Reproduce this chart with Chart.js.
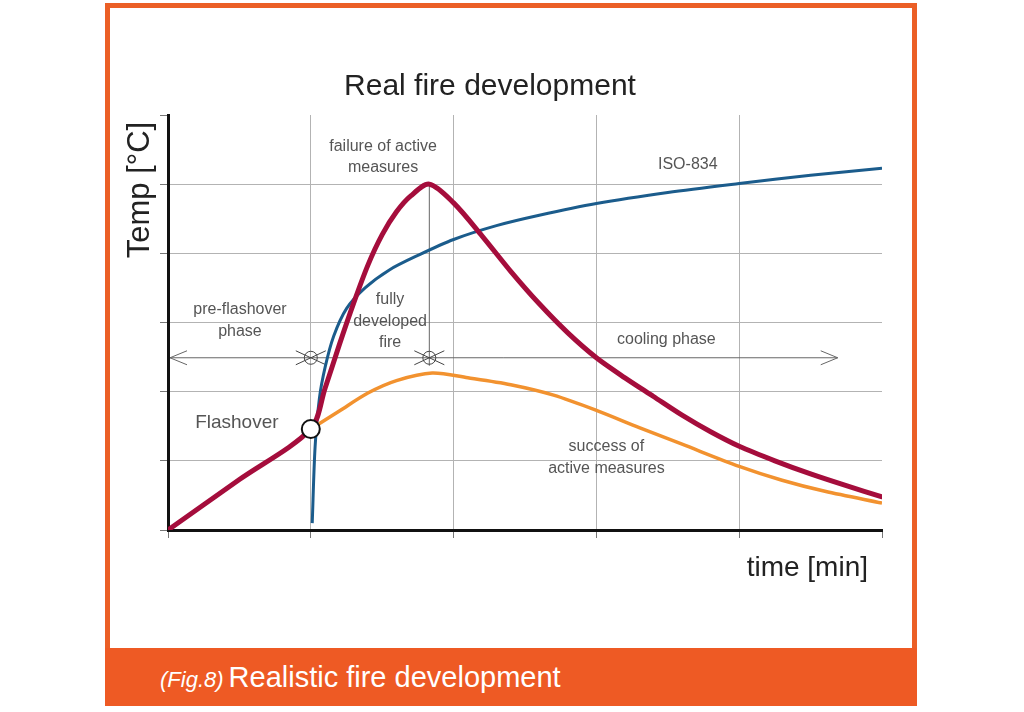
<!DOCTYPE html>
<html>
<head>
<meta charset="utf-8">
<title>Real fire development</title>
<script src="https://cdn.jsdelivr.net/npm/chart.js@4.4.1/dist/chart.umd.min.js"></script>
<style>
  html, body { margin: 0; padding: 0; background: #fff; }
  body { width: 1024px; height: 712px; position: relative; overflow: hidden; font-family: 'Liberation Sans', Arial, sans-serif; }
  .frame { position: absolute; left: 105px; top: 3px; width: 802px; height: 693px; border: 5px solid #EB5F26; }
  .band { position: absolute; left: 105px; top: 648px; width: 812px; height: 58px; background: #EE5A24; }
  .caption { position: absolute; left: 160px; top: 661px; color: #fff; font-size: 29px; line-height: 32px; white-space: nowrap; }
  .caption i { font-size: 22px; margin-right: 5px; }
  #chart { position: absolute; left: 0; top: 0; }
</style>
</head>
<body>
<div class="frame"></div>
<div class="band"></div>
<div class="caption"><i>(Fig.8)</i>Realistic fire development</div>
<canvas id="chart" width="1024" height="712"></canvas>
<script>
// Real fire: growth, flashover, fully developed fire, cooling (time / temp in grid units)
const realX = [0, 0.5, 1.0, 1.1, 1.2, 1.3, 1.4, 1.5, 1.6, 1.7, 1.83, 2.0, 2.2, 2.4, 2.6, 2.8, 3.0, 3.2, 3.4, 3.6, 3.8, 4.0, 4.25, 4.5, 4.75, 5.0];
const realY = [0, 0.73, 1.46, 2.05, 2.68, 3.28, 3.83, 4.27, 4.6, 4.83, 5.0, 4.73, 4.25, 3.74, 3.27, 2.85, 2.49, 2.2, 1.93, 1.66, 1.42, 1.21, 1.0, 0.81, 0.64, 0.48];

// ISO-834 standard curve
const isoX = [1.01, 1.03, 1.06, 1.1, 1.16, 1.25, 1.38, 1.55, 1.75, 2.0, 2.3, 2.6, 3.0, 3.5, 4.0, 4.5, 5.0];
const isoY = [0.1, 1.2, 1.9, 2.35, 2.8, 3.2, 3.5, 3.76, 3.97, 4.2, 4.4, 4.55, 4.72, 4.88, 5.01, 5.13, 5.23];

// success of active measures
const successX = [1.0, 1.2, 1.4, 1.6, 1.85, 2.1, 2.4, 2.7, 3.0, 3.3, 3.6, 4.0, 4.3, 4.6, 5.0];
const successY = [1.46, 1.72, 1.98, 2.16, 2.27, 2.2, 2.1, 1.95, 1.73, 1.48, 1.24, 0.92, 0.72, 0.56, 0.39];

// flashover point
const flashX = [1.0];
const flashY = [1.46];

// axis ranges (no numeric tick labels in the figure)
const xTicks = [0, 1, 2, 3, 4, 5];
const yTicks = [0, 1, 2, 3, 4, 5, 6];

// phase dimension line
const phaseY = 2.49;
const phaseEnd = 4.69;

// labels in data units: [lines, x, y, align, size]
const labels = [
    [['failure of active', 'measures'], 1.506, 5.55, 'center', 16],
    [['ISO-834'], 3.64, 5.29, 'center', 16],
    [['pre-flashover', 'phase'], 0.504, 3.18, 'center', 16],
    [['fully', 'developed', 'fire'], 1.555, 3.33, 'center', 16],
    [['cooling phase'], 3.49, 2.75, 'center', 16],
    [['success of', 'active measures'], 3.07, 1.2, 'center', 16],
    [['Flashover'], 0.19, 1.55, 'left', 19]
];

const toPts = (xs, ys) => xs.map((x, i) => ({ x: x, y: ys[i] }));

const peakIdx = realY.indexOf(Math.max(...realY));

function marker(ctx, x, y) {
    ctx.beginPath();
    ctx.arc(x, y, 6.5, 0, Math.PI * 2);
    ctx.moveTo(x - 15, y - 7);
    ctx.lineTo(x + 15, y + 7);
    ctx.moveTo(x - 15, y + 7);
    ctx.lineTo(x + 15, y - 7);
    ctx.stroke();
}

const annotations = {
    id: 'annotations',
    beforeDatasetsDraw(chart) {
        const ctx = chart.ctx;
        const xs = chart.scales.x, ys = chart.scales.y;
        ctx.save();
        ctx.strokeStyle = '#666';
        ctx.lineWidth = 1;

        // phase line with open arrow heads
        const py = ys.getPixelForValue(phaseY);
        const x0 = xs.getPixelForValue(0) + 2;
        const x1 = xs.getPixelForValue(phaseEnd);
        ctx.beginPath();
        ctx.moveTo(x0, py);
        ctx.lineTo(x1, py);
        ctx.moveTo(x0 + 17, py - 7);
        ctx.lineTo(x0, py);
        ctx.lineTo(x0 + 17, py + 7);
        ctx.moveTo(x1 - 17, py - 7);
        ctx.lineTo(x1, py);
        ctx.lineTo(x1 - 17, py + 7);
        ctx.stroke();

        // vertical line from the peak down to the phase line
        const pk = xs.getPixelForValue(realX[peakIdx]);
        ctx.beginPath();
        ctx.moveTo(pk, ys.getPixelForValue(realY[peakIdx]));
        ctx.lineTo(pk, py + 8);
        ctx.stroke();

        ctx.strokeStyle = '#444';
        marker(ctx, xs.getPixelForValue(flashX[0]), py);
        marker(ctx, pk, py);

        // text labels
        ctx.fillStyle = '#555';
        ctx.textBaseline = 'middle';
        labels.forEach(([lines, lx, ly, align, size]) => {
            ctx.font = size + "px 'Liberation Sans', Arial, sans-serif";
            ctx.textAlign = align;
            const px = xs.getPixelForValue(lx);
            const top = ys.getPixelForValue(ly);
            lines.forEach((t, i) => ctx.fillText(t, px, top + i * 21.5));
        });
        ctx.restore();
    },
    afterDraw(chart) {
        const ctx = chart.ctx;
        const area = chart.chartArea;
        ctx.save();
        ctx.fillStyle = '#222';
        ctx.textBaseline = 'middle';

        // title
        ctx.font = "30px 'Liberation Sans', Arial, sans-serif";
        ctx.textAlign = 'center';
        ctx.fillText('Real fire development', area.left + 322, 87);

        // axis titles
        ctx.font = "28px 'Liberation Sans', Arial, sans-serif";
        ctx.textAlign = 'right';
        ctx.fillText('time [min]', area.right - 14, 568);

        ctx.translate(area.left - 28, area.top + 75);
        ctx.rotate(-Math.PI / 2);
        ctx.font = "31px 'Liberation Sans', Arial, sans-serif";
        ctx.textAlign = 'center';
        ctx.fillText('Temp [°C]', 0, 0);
        ctx.restore();
    }
};

new Chart(document.getElementById('chart'), {
    type: 'scatter',
    data: {
        datasets: [
            {
                label: 'Flashover',
                data: toPts(flashX, flashY),
                showLine: false,
                pointRadius: 9,
                pointBackgroundColor: '#fff',
                pointBorderColor: '#111',
                pointBorderWidth: 2,
                clip: false
            },
            {
                label: 'Real fire',
                data: toPts(realX, realY),
                showLine: true,
                borderColor: '#A50D3C',
                borderWidth: 5,
                pointRadius: 0,
                tension: 0.3,
                borderCapStyle: 'round',
                borderJoinStyle: 'round'
            },
            {
                label: 'ISO-834',
                data: toPts(isoX, isoY),
                showLine: true,
                borderColor: '#1B5C8C',
                borderWidth: 3,
                pointRadius: 0,
                tension: 0.3
            },
            {
                label: 'Success of active measures',
                data: toPts(successX, successY),
                showLine: true,
                borderColor: '#F2922F',
                borderWidth: 3.5,
                pointRadius: 0,
                tension: 0.3
            }
        ]
    },
    options: {
        responsive: false,
        animation: false,
        events: [],
        layout: { padding: { left: 160, right: 142, top: 115, bottom: 174 } },
        plugins: {
            legend: { display: false },
            tooltip: { enabled: false },
            title: { display: false }
        },
        scales: {
            x: {
                type: 'linear',
                min: xTicks[0],
                max: xTicks[xTicks.length - 1],
                afterBuildTicks: (s) => { s.ticks = xTicks.map(v => ({ value: v })); },
                ticks: { display: false },
                grid: {
                    color: (c) => (c.tick && c.tick.value === xTicks[xTicks.length - 1]) ? 'rgba(0,0,0,0)' : '#b3b3b3',
                    tickColor: '#777',
                    tickLength: 8,
                    lineWidth: 1
                },
                border: { display: true, color: '#111', width: 3 }
            },
            y: {
                type: 'linear',
                min: yTicks[0],
                max: yTicks[yTicks.length - 1],
                afterBuildTicks: (s) => { s.ticks = yTicks.map(v => ({ value: v })); },
                ticks: { display: false },
                grid: {
                    color: (c) => (c.tick && c.tick.value === yTicks[yTicks.length - 1]) ? 'rgba(0,0,0,0)' : '#b3b3b3',
                    tickColor: '#777',
                    tickLength: 8,
                    lineWidth: 1
                },
                border: { display: true, color: '#111', width: 3 }
            }
        }
    },
    plugins: [annotations]
});
</script>
</body>
</html>
